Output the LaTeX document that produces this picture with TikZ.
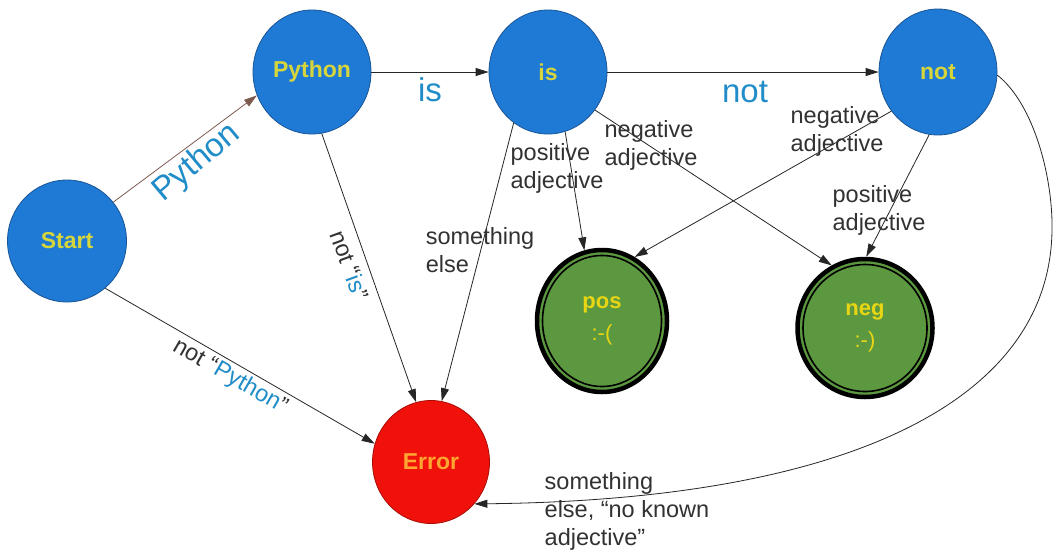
\documentclass[tikz,border=0pt]{standalone}
\usepackage{fontspec}
\setmainfont{Liberation Sans}
\usetikzlibrary{shapes.geometric,arrows.meta}
\definecolor{nodeblue}{RGB}{30,122,212}
\definecolor{nodeborder}{RGB}{25,85,150}
\definecolor{nodetext}{RGB}{214,214,60}
\definecolor{goodgreen}{RGB}{92,152,64}
\definecolor{goodtext}{RGB}{232,214,20}
\definecolor{errred}{RGB}{240,18,10}
\definecolor{errtext}{RGB}{255,165,50}
\definecolor{lblgray}{RGB}{50,50,50}
\definecolor{lblblue}{RGB}{32,140,200}
\definecolor{pyedge}{RGB}{125,90,80}
\begin{document}
\begin{tikzpicture}[x=1pt,y=-1pt,
  state/.style={ellipse, draw=nodeborder, line width=0.8pt, fill=nodeblue, inner sep=0pt,
    text=nodetext, font=\bfseries\fontsize{23}{27}\selectfont, minimum width=118pt, minimum height=124pt},
  errstate/.style={state, fill=errred, draw=errred!70!black, text=errtext},
  final/.style={ellipse, draw=black, line width=4.5pt, fill=goodgreen, inner sep=0pt,
    text=goodtext, font=\bfseries\fontsize{22}{32}\selectfont, align=center},
  edge/.style={draw=black!85, line width=0.8pt, -{Triangle[length=13pt,width=8pt]}},
  lbl/.style={text=lblgray, font=\fontsize{23.5}{28}\selectfont, align=left, inner sep=0pt},
  biglbl/.style={text=lblblue, font=\fontsize{33}{38}\selectfont, inner sep=0pt},
]
\fill[white] (0,0) rectangle (1054,552);
\useasboundingbox (0,0) rectangle (1054,552);

% states
\node[state, minimum width=119pt, minimum height=122pt] (nStart) at (67,241) {Start};
\node[state] (nPython) at (312,72) {Python};
\node[state] (nIs) at (548,72) {is};
\node[state, minimum height=126pt] (nNot) at (938,72) {not};
\node[errstate, minimum width=117pt, minimum height=123pt] (nError) at (431,462) {Error};
\node[final, minimum width=130pt, minimum height=142pt] (nPos) at (602,321) {pos\\{\mdseries :-(}};
\node[final, minimum width=135pt, minimum height=138pt] (nNeg) at (865,328) {neg\\{\mdseries :-)}};
\draw[line width=1.6pt] (nPos.center) ellipse [x radius=59.5, y radius=65.5];
\draw[line width=1.6pt] (nNeg.center) ellipse [x radius=62, y radius=63.5];

% edges
\draw[edge, draw=pyedge] (nStart.40) -- (nPython.203);
\draw[edge] (nPython) -- (nIs);
\draw[edge] (nIs) -- (nNot);
\draw[edge] (nPython.-81) -- (nError.104);
\draw[edge] (nIs.236) -- (nError.80);
\draw[edge] (nStart.-51) -- (nError.162);
\draw[edge] (nIs.-74) -- (nPos.104);
\draw[edge] (nIs.-39) -- (nNeg.118);
\draw[edge] (nNot.220) -- (nPos.63);
\draw[edge] (nNot.262) -- (nNeg.89);
\draw[edge] (nNot.-3) .. controls (1035,105) and (1053,180) .. (1052,230)
  .. controls (1050,400) and (850,500) .. (nError.-44);

% labels
\node[biglbl, rotate=40] (lPython) at (197,163) {Python};
\node[biglbl] (lIs) at (430,90) {is};
\node[biglbl] (lNot) at (745,92) {not};
\node[lbl, rotate=-70] (lNotIs) at (350,265) {not “\textcolor{lblblue}{is}”};
\node[lbl, rotate=-30] (lNotPy) at (230,377) {not “\textcolor{lblblue}{Python}”};
\node[lbl] (lElse) at (480,250) {something\\else};
\node[lbl] (lPosIs) at (557,168) {positive\\adjective};
\node[lbl] (lNegIs) at (651,145) {negative\\adjective};
\node[lbl] (lNegNot) at (837,131) {negative\\adjective};
\node[lbl] (lPosNot) at (879,210) {positive\\adjective};
\node[lbl] (lNoAdj) at (627,511) {something\\else, “no known\\adjective”};
\end{tikzpicture}
\end{document}
